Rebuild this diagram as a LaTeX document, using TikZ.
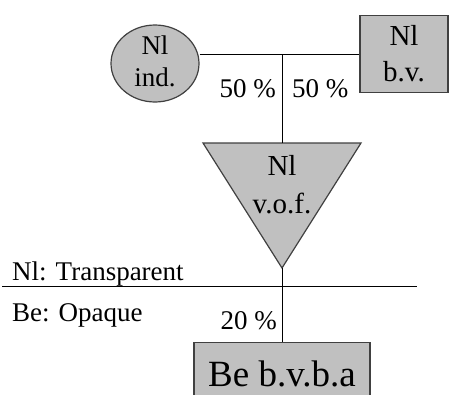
\documentclass[tikz,border=0pt]{standalone}
\usepackage{fontspec}
\setmainfont{Liberation Serif}
\usetikzlibrary{shapes.geometric}
\definecolor{shapefill}{HTML}{C0C0C0}
\definecolor{shapeline}{HTML}{404040}
\begin{document}
\begin{tikzpicture}[x=1pt,y=-1pt,
  shapebox/.style={draw=shapeline, fill=shapefill, line width=1.2pt},
  conn/.style={draw=black, line width=0.9pt},
  lbl/.style={inner sep=0pt, font=\fontsize{27}{31}\selectfont},
  inlbl/.style={inner sep=0pt, font=\fontsize{29}{33}\selectfont},
  biglbl/.style={inner sep=0pt, text depth=0pt, font=\fontsize{37}{44}\selectfont}]
\useasboundingbox (0,0) rectangle (449,394);
% shapes
\node[shapebox, ellipse, minimum width=88pt, minimum height=77pt, inner sep=0pt] (ind) at (155,63.5) {};
\node[shapebox, rectangle, minimum width=88pt, minimum height=77pt, inner sep=0pt] (bv) at (404,54) {};
\coordinate (tl) at (203,143);
\coordinate (tr) at (361,143);
\coordinate (apex) at (282,268);
\coordinate (vtop) at (282,143);
\path[shapebox] (tl) -- (tr) -- (apex) -- cycle;
\node[shapebox, rectangle, minimum width=176pt, minimum height=90pt, inner sep=0pt, anchor=north] (bvba) at (282,342) {};
% texts in shapes
\node[lbl, anchor=base] (t1) at (155,54) {Nl};
\node[lbl, anchor=base] (t2) at (155,86) {ind.};
\node[inlbl, anchor=base] (t3) at (404,45.5) {Nl};
\node[inlbl, anchor=base] (t4) at (404,81) {b.v.};
\node[inlbl, anchor=base] (t5) at (282,175) {Nl};
\node[inlbl, anchor=base] (t6) at (282,213) {v.o.f.};
\node[biglbl, anchor=base] (t7) at (282,386) {Be b.v.b.a};
% connectors
\coordinate (j) at (282,54);
\draw[conn] (ind.east |- bv.west) -- (bv.west);
\draw[conn] (j) -- (vtop);
\draw[conn] (apex) -- (bvba.north);
\coordinate (sl) at (2,286);
\coordinate (sr) at (417,286);
\draw[conn] (sl) -- (sr);
% labels
\node[lbl, anchor=base east] (p1) at (276,97) {50 \%};
\node[lbl, anchor=base west] (p2) at (292,97) {50 \%};
\node[lbl, anchor=base east] (p3) at (277,329) {20 \%};
\node[lbl, anchor=base west] (nl) at (12,280) {Nl: Transparent};
\node[lbl, anchor=base west] (be) at (12,321) {Be: Opaque};
\end{tikzpicture}
\end{document}
